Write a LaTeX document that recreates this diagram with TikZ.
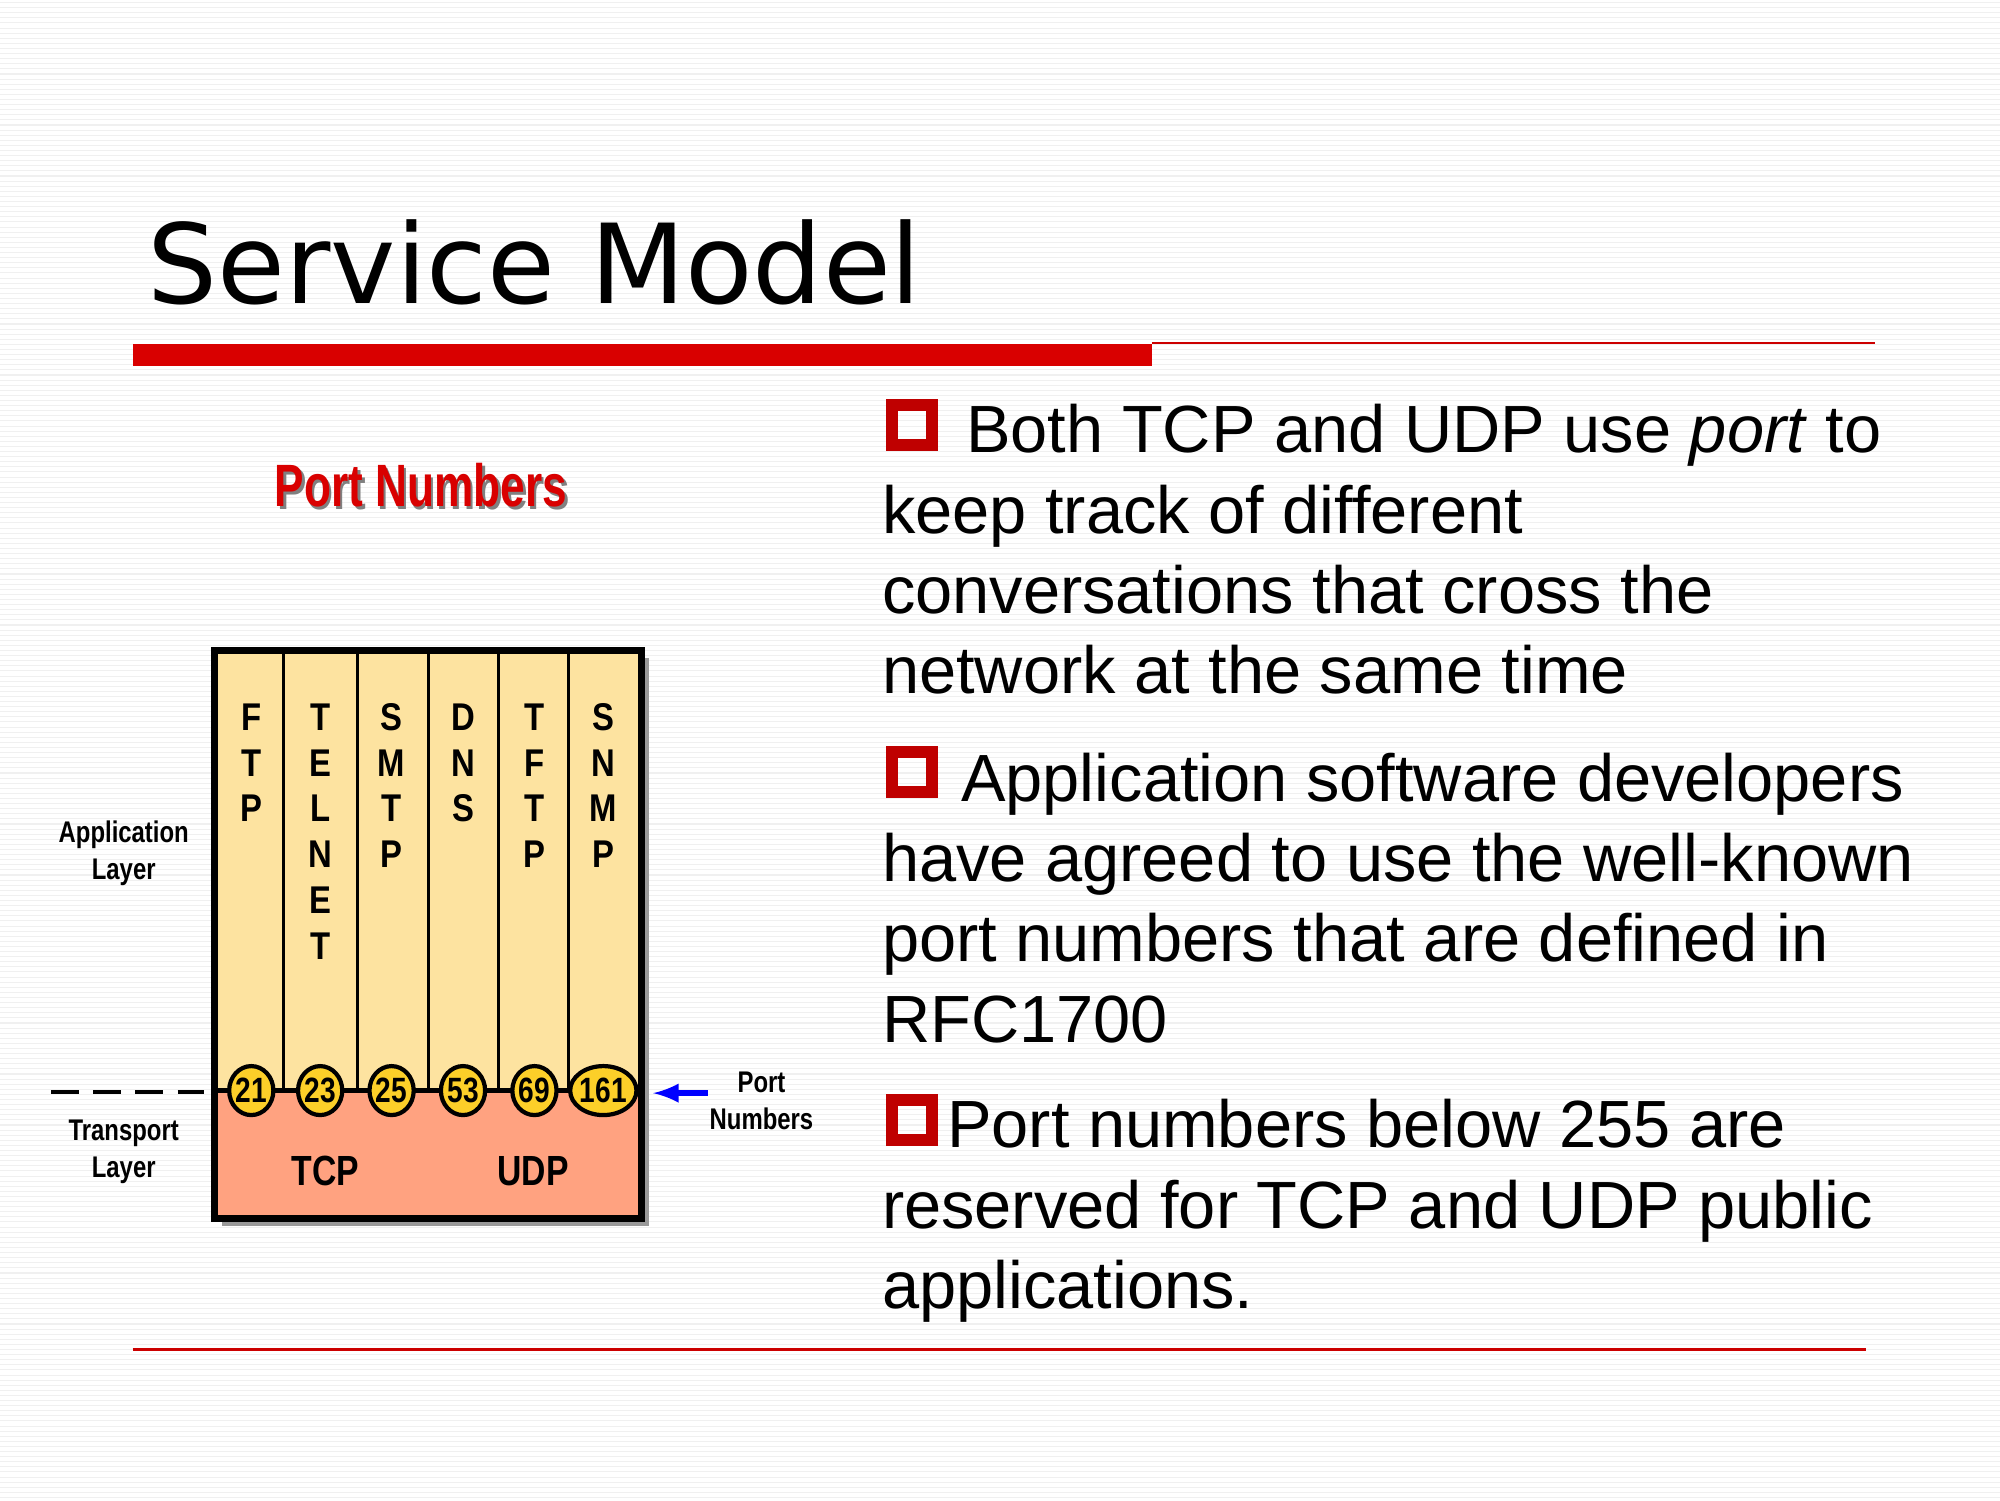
\documentclass[tikz,border=0pt]{standalone}
\usepackage{fontspec}
\usetikzlibrary{shapes.geometric}
\setmainfont{Liberation Sans}
\newfontfamily\titlefont{DejaVu Sans}
\begin{document}
\begin{tikzpicture}[x=0.012755cm,y=-0.012755cm,
  body/.style={anchor=base west,inner sep=0,font=\fontsize{19}{23}\selectfont},
  lab/.style={align=center,inner sep=0,font=\bfseries\fontsize{8.5}{10.5}\selectfont,xscale=0.8},
  let/.style={inner sep=0,font=\bfseries\fontsize{11}{12}\selectfont,xscale=0.85},
  port/.style={ellipse,draw=black,line width=1.2pt,fill=yellow!60!orange!85,inner sep=0,minimum width=0.44cm,minimum height=0.49cm,font=\bfseries\fontsize{10}{12}\selectfont},
  bullet/.style={draw=red!75!black,line width=3.5pt,minimum size=0.4cm,inner sep=0}]
\useasboundingbox (0,0) rectangle (1568,1176);
\fill[white] (0,0) rectangle (1568,1176);
\foreach \y in {2,6,...,1176} \draw[gray!12,line width=0.3pt] (0,\y) -- (1568,\y);
% title
\node[anchor=base west,inner sep=0,font=\titlefont\fontsize{31.4}{38}\selectfont] (title) at (115,238) {Service Model};
\fill[red!85!black] (104,270) rectangle (903,287);
\draw[red!80!black,line width=0.6pt] (903,269) -- (1470,269);
\draw[red!80!black,line width=0.6pt] (104,1058) -- (1463,1058);
% diagram
\node[font=\bfseries\fontsize{17}{20}\selectfont,text=black!50,xscale=0.74] at (332,383) {Port Numbers};
\node[font=\bfseries\fontsize{17}{20}\selectfont,text=red!85!black,xscale=0.74] (pn) at (330,380) {Port Numbers};
\fill[black!40] (174,516) rectangle (509,961);
\fill[yellow!45!orange!35] (168,510) rectangle (503,855);
\fill[red!45!orange!50] (168,855) rectangle (503,955);
\draw[line width=2pt] (168,510) rectangle (503,955);
\foreach \x in {222,280,336,391,446} \draw[line width=0.8pt] (\x,510) -- (\x,855);
\draw[line width=1.2pt] (168,855) -- (503,855);
\foreach \x/\w in {197/{F,T,P},251/{T,E,L,N,E,T},307/{S,M,T,P},363/{D,N,S},419/{T,F,T,P},473/{S,N,M,P}}{
  \foreach \c [count=\i] in \w { \node[let] at (\x,{562+36*(\i-1)}) {\c}; }
}
\foreach \n/\x/\t in {p1/197/21,p2/251/23,p3/307/25,p4/363/53,p5/419/69,p6/473/161}
  \node[port] (\n) at (\x,855) {\scalebox{0.8}[1]{\t}};
\node[lab,font=\bfseries\fontsize{12}{14}\selectfont] (tcp) at (255,918) {TCP};
\node[lab,font=\bfseries\fontsize{12}{14}\selectfont] (udp) at (418,918) {UDP};
\node[lab] (app) at (97,669) {Application\\Layer};
\node[lab] (tr) at (97,903) {Transport\\Layer};
\node[lab] (pnum) at (597,863) {Port\\Numbers};
\coordinate (d1) at (40,856); \coordinate (d2) at (160,856);
\draw[line width=1pt,dash pattern=on 8pt off 4pt] (d1) -- (d2);
\coordinate (as) at (555,857); \coordinate (ae) at (512,857);
\draw[blue,line width=1.5pt,-latex] (as) -- (ae);
% bullets
\node[bullet] (b1) at (715,333) {};
\node[bullet] (b2) at (715,605) {};
\node[bullet] (b3) at (715,878) {};
\node[body] at (757,355) {Both TCP and UDP use \textit{port} to};
\node[body] at (691,418) {keep track of different};
\node[body] at (691,481) {conversations that cross the};
\node[body] at (691,544) {network at the same time};
\node[body] at (753,628) {Application software developers};
\node[body] at (691,691) {have agreed to use the well-known};
\node[body] at (691,754) {port numbers that are defined in};
\node[body] at (691,817) {RFC1700};
\node[body] at (742,900) {Port numbers below 255 are};
\node[body] at (691,963) {reserved for TCP and UDP public};
\node[body] at (691,1026) {applications.};
\end{tikzpicture}
\end{document}
